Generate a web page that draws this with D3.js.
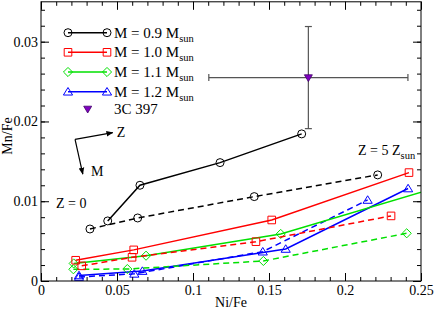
<!DOCTYPE html>
<html><head><meta charset="utf-8">
<script src="https://cdn.jsdelivr.net/npm/d3@7"></script>
<style>body{margin:0;background:#fff}svg, svg text{font-family:'Liberation Serif','Times New Roman',Times,serif !important}</style>
</head><body><svg id="c" width="436" height="311"></svg>
<script>
// ---- data ----
const xTickValues = [0, 0.05, 0.1, 0.15, 0.2, 0.25];
const xTickLabels = ["0", "0.05", "0.1", "0.15", "0.2", "0.25"];
const yTickValues = [0, 0.01, 0.02, 0.03];
const yTickLabels = ["0", "0.01", "0.02", "0.03"];

const m09SolidX = [0.0439, 0.0651, 0.1178, 0.1715];
const m09SolidY = [0.00753, 0.0120, 0.01484, 0.01844];
const m09DashX = [0.0322, 0.0636, 0.1403, 0.2215];
const m09DashY = [0.00652, 0.0079, 0.01058, 0.0133];
const m10SolidX = [0.0228, 0.0610, 0.1518, 0.2421];
const m10SolidY = [0.0026, 0.0039, 0.00765, 0.01359];
const m10DashX = [0.0268, 0.0599, 0.1414, 0.2303];
const m10DashY = [0.0019, 0.00297, 0.00493, 0.00816];
const m11SolidX = [0.0215, 0.0691, 0.1577, 0.2550];
const m11SolidY = [0.0022, 0.00317, 0.0059, 0.0114];
const m11DashX = [0.0213, 0.0568, 0.1463, 0.2406];
const m11DashY = [0.00147, 0.0015, 0.00251, 0.00598];
const m12SolidX = [0.0250, 0.0667, 0.1610, 0.2415];
const m12SolidY = [0.0007, 0.00125, 0.00402, 0.0116];
const m12DashX = [0.0250, 0.0614, 0.1459, 0.2149];
const m12DashY = [0.0005, 0.0009, 0.00368, 0.01016];

const seriesNames = ["M = 0.9 M", "M = 1.0 M", "M = 1.1 M", "M = 1.2 M"];
const obsName = "3C 397";
const obsX = [0.1759], obsY = [0.0255], obsXErr = [0.0655], obsYErr = [0.0064];

// annotation anchors (data space)
const arrowCorner = [0.0224, 0.01776], arrowZ = [0.0472, 0.01859], arrowM = [0.0275, 0.01341];

// ---- layout ----
const FF = "'Liberation Serif','Times New Roman',Times,serif";
const svg = d3.select("#c");
const L = 41, R = 421, T = 1.8, B = 281;
const x = d3.scaleLinear().domain([0, 0.25]).range([L, R]);
const y = d3.scaleLinear().domain([0, 0.035]).range([B, T]);
const FS = 14;

svg.append("defs").append("clipPath").attr("id", "clip")
  .append("rect").attr("x", L).attr("y", T).attr("width", R - L).attr("height", B - T);

// markers
function markerPath(shape, s) {
  if (shape === "circle") { const r = s; return `M${-r},0A${r},${r} 0 1,0 ${r},0A${r},${r} 0 1,0 ${-r},0Z`; }
  if (shape === "square") return `M${-s},${-s}H${s}V${s}H${-s}Z`;
  if (shape === "diamond") { const d = s * 1.2; return `M0,${-d}L${d},0L0,${d}L${-d},0Z`; }
  if (shape === "triangle") { const h = s * 1.1; return `M0,${-h}L${h * 1.1},${h * 0.8}L${-h * 1.1},${h * 0.8}Z`; }
  if (shape === "tridown") { const h = s; return `M${-h},${-h * 0.7}L${h},${-h * 0.7}L0,${h}Z`; }
}

const series = [
  {name: seriesNames[0], color: "#000000", shape: "circle", size: 4, solid: [m09SolidX, m09SolidY], dash: [m09DashX, m09DashY]},
  {name: seriesNames[1], color: "#ff0000", shape: "square", size: 3.8, solid: [m10SolidX, m10SolidY], dash: [m10DashX, m10DashY]},
  {name: seriesNames[2], color: "#00e000", shape: "diamond", size: 3.8, solid: [m11SolidX, m11SolidY], dash: [m11DashX, m11DashY]},
  {name: seriesNames[3], color: "#0000ff", shape: "triangle", size: 3.8, solid: [m12SolidX, m12SolidY], dash: [m12DashX, m12DashY]}
];

const plot = svg.append("g").attr("clip-path", "url(#clip)");
const line = d3.line().x(d => x(d[0])).y(d => y(d[1]));
series.slice().reverse().forEach(s => {
  [["dash", "6,4"], ["solid", null]].forEach(([k, da]) => {
    const pts = d3.zip(s[k][0], s[k][1]);
    plot.append("path").datum(pts).attr("d", line).attr("fill", "none")
      .attr("stroke", s.color).attr("stroke-width", 1.5).attr("stroke-dasharray", da);
    plot.selectAll(null).data(pts).join("path")
      .attr("transform", d => `translate(${x(d[0])},${y(d[1])})`)
      .attr("d", markerPath(s.shape, s.size)).attr("fill", "none")
      .attr("stroke", s.color).attr("stroke-width", 1);
  });
});

// observation with error bars
const obs = d3.zip(obsX, obsY, obsXErr, obsYErr);
const eg = svg.append("g").attr("stroke", "#555").attr("stroke-width", 1.2);
obs.forEach(([ox, oy, ex, ey]) => {
  eg.append("line").attr("x1", x(ox - ex)).attr("x2", x(ox + ex)).attr("y1", y(oy)).attr("y2", y(oy));
  eg.append("line").attr("x1", x(ox)).attr("x2", x(ox)).attr("y1", y(oy - ey)).attr("y2", y(oy + ey));
  [[ox - ex, oy, "v"], [ox + ex, oy, "v"], [ox, oy - ey, "h"], [ox, oy + ey, "h"]].forEach(([cx, cy, o]) => {
    if (o === "v") eg.append("line").attr("x1", x(cx)).attr("x2", x(cx)).attr("y1", y(cy) - 3.5).attr("y2", y(cy) + 3.5);
    else eg.append("line").attr("x1", x(cx) - 3.5).attr("x2", x(cx) + 3.5).attr("y1", y(cy)).attr("y2", y(cy));
  });
  svg.append("path").attr("transform", `translate(${x(ox)},${y(oy)})`).attr("d", markerPath("tridown", 4))
    .attr("fill", "#8000c0").attr("stroke", "#40006a").attr("stroke-width", 0.8);
});

// axes
function minor(domain, step) { const out = []; for (let v = domain[0]; v <= domain[1] + 1e-9; v += step) out.push(+v.toFixed(5)); return out; }
const xMinor = minor([0, 0.25], 0.01), yMinor = minor([0, 0.034], 0.002);
const axStyle = g => { g.attr("font-family", FF); g.select(".domain").remove(); g.selectAll("line").attr("stroke", "#000"); g.selectAll("text").attr("font-size", FS).style("font-family", FF).attr("fill", "#000"); };

svg.append("g").attr("transform", `translate(0,${B})`).call(d3.axisBottom(x).tickValues(xMinor).tickSize(-4).tickFormat("")).call(axStyle);
svg.append("g").attr("transform", `translate(0,${B})`).call(d3.axisBottom(x).tickValues(xTickValues).tickSize(-8).tickPadding(4).tickFormat((d, i) => xTickLabels[i])).call(axStyle);
svg.append("g").attr("transform", `translate(0,${T})`).call(d3.axisTop(x).tickValues(xMinor).tickSize(-4).tickFormat("")).call(axStyle);
svg.append("g").attr("transform", `translate(0,${T})`).call(d3.axisTop(x).tickValues(xTickValues).tickSize(-8).tickFormat("")).call(axStyle);
svg.append("g").attr("transform", `translate(${L},0)`).call(d3.axisLeft(y).tickValues(yMinor).tickSize(-4).tickFormat("")).call(axStyle);
svg.append("g").attr("transform", `translate(${L},0)`).call(d3.axisLeft(y).tickValues(yTickValues).tickSize(-8).tickPadding(3).tickFormat((d, i) => yTickLabels[i])).call(axStyle);
svg.append("g").attr("transform", `translate(${R},0)`).call(d3.axisRight(y).tickValues(yMinor).tickSize(-4).tickFormat("")).call(axStyle);
svg.append("g").attr("transform", `translate(${R},0)`).call(d3.axisRight(y).tickValues(yTickValues).tickSize(-8).tickFormat("")).call(axStyle);

svg.append("rect").attr("x", L).attr("y", T).attr("width", R - L).attr("height", B - T)
  .attr("fill", "none").attr("stroke", "#000").attr("stroke-width", 1);

const txt = (sel) => sel.style("font-family", FF);

// axis titles
txt(svg.append("text").attr("x", (L + R) / 2).attr("y", 307).attr("text-anchor", "middle").attr("font-size", FS).text("Ni/Fe"));
txt(svg.append("text").attr("transform", `translate(12,${136}) rotate(-90)`).attr("text-anchor", "middle").attr("font-size", FS).text("Mn/Fe"));

// legend
const lg = svg.append("g");
const rowY = [32.7, 52.3, 72, 91.7];
series.forEach((s, i) => {
  const yy = rowY[i];
  lg.append("line").attr("x1", 68).attr("x2", 107).attr("y1", yy).attr("y2", yy).attr("stroke", s.color).attr("stroke-width", 1.5);
  [68, 107].forEach(xx => lg.append("path").attr("transform", `translate(${xx},${yy})`).attr("d", markerPath(s.shape, s.size)).attr("fill", "none").attr("stroke", s.color));
  const t = txt(lg.append("text").attr("x", 114).attr("y", yy + 5).attr("font-size", FS + 1));
  t.append("tspan").text(s.name);
  t.append("tspan").attr("font-size", 10.5).attr("dy", 4).text("sun");
});
lg.append("path").attr("transform", `translate(87.7,109)`).attr("d", markerPath("tridown", 4)).attr("fill", "#8000c0").attr("stroke", "#40006a").attr("stroke-width", 0.8);
txt(lg.append("text").attr("x", 114).attr("y", 114).attr("font-size", FS + 1).text(obsName));

// arrows
const defs = svg.select("defs");
defs.append("marker").attr("id", "ah").attr("viewBox", "0 0 10 10").attr("refX", 9).attr("refY", 5)
  .attr("markerWidth", 7).attr("markerHeight", 7).attr("markerUnits", "userSpaceOnUse").attr("orient", "auto")
  .append("path").attr("d", "M0,1L10,5L0,9Z").attr("fill", "#000");
[arrowZ, arrowM].forEach(tip => {
  svg.append("line").attr("x1", x(arrowCorner[0])).attr("y1", y(arrowCorner[1])).attr("x2", x(tip[0])).attr("y2", y(tip[1]))
    .attr("stroke", "#000").attr("stroke-width", 1.2).attr("marker-end", "url(#ah)");
});
txt(svg.append("text").attr("x", x(0.0499)).attr("y", y(0.0181)).attr("font-size", FS).text("Z"));
txt(svg.append("text").attr("x", x(0.0329)).attr("y", y(0.0132)).attr("font-size", FS).text("M"));
txt(svg.append("text").attr("x", x(0.0099)).attr("y", y(0.0092)).attr("font-size", FS).text("Z = 0"));
const z5 = txt(svg.append("text").attr("x", x(0.2086)).attr("y", y(0.0158)).attr("font-size", FS));
z5.append("tspan").text("Z = 5 Z");
z5.append("tspan").attr("font-size", 10.5).attr("dy", 4).text("sun");
</script></body></html>
